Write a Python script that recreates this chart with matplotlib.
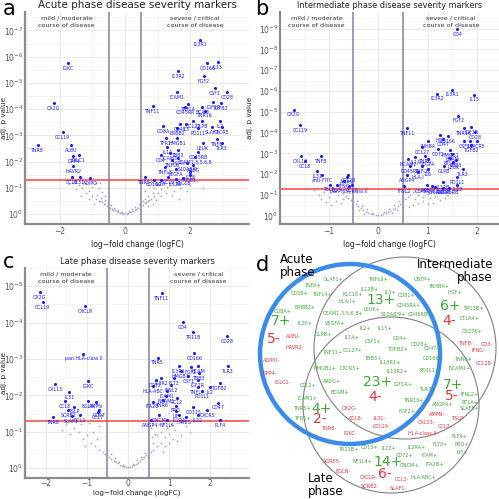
import numpy as np
import matplotlib.pyplot as plt
from matplotlib.patches import Circle
from matplotlib.ticker import LogFormatterMathtext, FixedLocator

## Volcano data: labelled markers as (logFC, log10 adj. p value)
a_names = ['IGKC', 'OX2G', 'CCL19', 'TNR8', 'ALBU', 'IGLC1', 'DPP4', 'HAVR2', 'IL31', 'CCL8', 'ADIPO',
           'I13R1', 'IL15', 'CD166', 'I13R2', 'FGF2', 'CSF1', 'ICAM1', 'CD28', 'TNF11', 'TNFL4', 'CD45RA',
           'BCAM', 'IGF1R', 'TGFB2', 'TNR16', 'CCL27', 'GLPB', 'IL2', 'CD47', 'IL3', 'CD8A', 'SLAF1',
           'CXCR5', 'ERBB2', 'PD1L1', 'TFR1', 'HMGB1', 'TNF6', 'LEUK', 'TLR3', 'IL1A', 'TBB3', 'CD45RB',
           'CD4', 'ICAM3', 'HLA-I', 'CEAM1,3,5,6,8', 'TNFL6', 'S10A8/9', 'AREG', 'TNFL8', 'VEGFA',
           'IL18', 'CD81', 'CCL2', 'TNR5', 'CD160', 'IL20', 'IL12B', 'K1C18']
a_fc = [-1.73, -2.18, -1.91, -2.67, -1.64, -1.42, -1.58, -1.58, -1.39, -1.61, -1.06,
        2.30, 2.85, 2.52, 1.64, 2.42, 2.76, 1.58, 3.12, 0.85, 1.94, 1.85,
        2.36, 2.70, 2.94, 2.45, 2.09, 2.36, 2.91, 1.70, 1.88, 1.18, 2.67,
        2.97, 1.61, 2.24, 1.27, 1.61, 2.82, 2.39, 2.97, 1.30, 1.64, 2.24,
        1.09, 1.39, 1.64, 2.15, 1.45, 1.91, 2.09, 1.24, 1.55,
        2.00, 2.00, 1.33, 0.61, 0.88, 1.09, 1.55, 1.79]
a_logp = [-5.74, -4.22, -3.12, -2.62, -2.62, -2.24, -2.20, -1.82, -1.41, -1.41, -1.37,
          -6.65, -5.78, -5.74, -5.44, -5.25, -4.79, -4.64, -4.64, -4.11, -4.18, -4.07,
          -4.07, -4.26, -4.22, -3.95, -3.54, -3.54, -3.54, -3.42, -3.42, -3.35, -3.31,
          -3.31, -3.27, -3.27, -2.89, -2.89, -2.85, -2.70, -2.70, -2.55, -2.43, -2.36,
          -2.24, -2.32, -2.13, -2.17, -2.05, -1.94, -1.86, -1.79, -1.71,
          -1.60, -1.48, -1.41, -1.41, -1.32, -1.32, -1.33, -1.37]
a_bg_fc = [-0.05, 0.05, 0.0, -0.1, 0.1, -0.15, 0.15, -0.2, 0.2, -0.25, 0.25, -0.3, 0.3, -0.35, 0.35,
           -0.4, 0.4, -0.45, 0.45, -0.5, 0.5, -0.55, 0.55, -0.6, 0.6, -0.65, 0.65, -0.7, 0.7, -0.75,
           0.75, -0.8, 0.8, -0.9, 0.9, -1.0, 1.0, -0.12, 0.12, -0.22, 0.22, -0.32, 0.32, -0.42, 0.42,
           -0.52, 0.55, -0.62, 0.62, -0.72, 0.72, -0.85, 0.85,
           -1.1, -1.2, -1.3, -1.4, -1.5, -1.6, -1.7, -1.2, -1.0, -0.9, -0.8, -0.7, -1.1, -1.35, -0.95,
           -0.6, -1.55, -0.75, -1.25,
           0.6, 0.7, 0.8, 0.9, 1.0, 1.1, 1.2, 1.3, 1.4, 1.5, 1.6, 1.7, 1.8, 2.0, 2.2, 1.1, 1.25, 0.95,
           1.45, 1.65, 0.7, 0.85, 2.4, 1.9]
a_bg_logp = [-0.02, -0.02, -0.04, -0.04, -0.05, -0.06, -0.07, -0.09, -0.1, -0.12, -0.13, -0.15, -0.16,
             -0.18, -0.2, -0.22, -0.24, -0.25, -0.28, -0.3, -0.32, -0.33, -0.36, -0.38, -0.42, -0.4,
             -0.45, -0.45, -0.5, -0.5, -0.55, -0.52, -0.6, -0.6, -0.7, -0.68, -0.8, -0.1, -0.12, -0.18,
             -0.2, -0.25, -0.28, -0.35, -0.38, -0.45, -0.5, -0.55, -0.6, -0.62, -0.7, -0.75, -0.8,
             -0.9, -0.8, -1.0, -1.1, -0.95, -1.2, -1.15, -1.2, -1.05, -1.2, -1.0, -0.85, -0.6, -0.7, -0.4,
             -0.7, -1.25, -1.2, -1.27,
             -0.9, -1.1, -1.25, -1.0, -1.15, -0.95, -1.2, -1.05, -1.25, -0.9, -1.15, -1.0, -1.2, -1.1,
             -1.25, -0.7, -0.8, -0.55, -0.75, -0.6, -0.3, -0.4, -1.0, -0.9]

b_names = ['CD4', 'I13R2', 'I13R1', 'IL15', 'OX2G', 'FGF2', 'TNF11', 'TNR16', 'IGF1R', 'CD28', 'HGF',
           'CD166', 'CD47', 'INHBA', 'CSF1', 'IL2', 'CXCR5', 'TGFB2', 'CCL27', 'CD72', 'HMGB1', 'BCAM',
           'TNR6', 'VEGFA', 'BTLA', 'LEUK', 'TBB3', 'NCAM1', 'IL1A', 'CD45RA', 'TNFL6', 'IL6', 'GLPB',
           'TLR3', 'ANGP4', 'HLA-I', 'PD1L1', 'IL12B', 'IL18', 'K1C18', 'CD45RB', 'CEAM1,3,5,6,8',
           'AREG', 'CTLA4', 'IFNL2', 'CCL19', 'CXL13', 'TNFB', 'CCL8', 'IL31', 'anti-FITC', 'TSLP',
           'CO3', 'IFNG', 'CCL28', 'AMPN', 'pan HLA-class II', 'CCL7']
b_fc = [1.60, 1.19, 1.49, 1.94, -1.70, 1.62, 0.59, 1.74, 1.88, 1.96, 1.25,
        1.41, 1.31, 1.01, 1.74, 1.86, 2.00, 1.88, 0.89, 1.21, 1.45, 1.49,
        0.95, 1.01, 1.45, 1.52, 1.58, 0.61, 0.75, 0.65, 0.89, 1.01, 1.33,
        1.72, 0.59, 0.81, 1.60, 1.31, 1.60, 1.31, 1.43, 1.09,
        0.99, 1.15, 0.53, -1.58, -1.56, -1.15, -1.47, -1.23, -1.13, -0.97,
        -0.83, -0.69, -0.61, -0.63, -0.59, -0.53]
b_logp = [-8.98, -5.87, -6.07, -5.83, -5.10, -4.81, -4.22, -4.22, -4.27, -4.03, -3.88,
          -3.83, -3.69, -3.59, -3.59, -3.59, -3.59, -3.40, -3.30, -3.20, -3.16, -2.96,
          -2.86, -2.72, -2.77, -2.57, -2.67, -2.72, -2.82, -2.38, -2.38, -2.23, -2.38,
          -2.23, -1.94, -2.09, -1.84, -1.60, -1.50, -1.35, -1.35, -1.41,
          -1.46, -1.36, -1.41, -4.37, -2.86, -2.86, -2.62, -2.14, -1.94, -1.50,
          -1.46, -1.65, -1.94, -1.84, -1.41, -1.46]
b_bg_fc = [0.0, -0.05, 0.05, -0.1, 0.1, -0.15, 0.15, -0.2, 0.2, -0.25, 0.25, -0.3, 0.3, -0.35, 0.35,
           -0.4, 0.4, -0.45, 0.45, -0.5, 0.5, -0.55, 0.55, -0.6, 0.6, -0.65, 0.65, -0.7, 0.7, 0.75,
           -0.12, 0.12, -0.22, 0.22, -0.32, 0.32, -0.42, 0.42, -0.5, 0.5, -0.58, 0.58, -0.38, 0.38,
           -0.28, 0.28,
           -0.8, -0.9, -1.0, -1.1, -1.2, -0.85, -0.75, -1.05, -0.95, -0.7, -1.3, -0.65, -1.15,
           0.8, 0.85, 0.9, 0.95, 1.0, 1.05, 1.1, 1.15, 1.2, 1.25, 1.3, 1.4, 1.5, 0.8, 0.9, 1.0, 1.1,
           0.7, 0.75, 1.35, 1.6, 0.62]
b_bg_logp = [-0.02, -0.03, -0.04, -0.06, -0.08, -0.1, -0.12, -0.15, -0.17, -0.2, -0.23, -0.27, -0.3,
             -0.35, -0.38, -0.45, -0.47, -0.55, -0.57, -0.65, -0.68, -0.75, -0.8, -0.85, -0.9, -0.95,
             -1.0, -1.1, -1.12, -1.2, -0.15, -0.18, -0.3, -0.32, -0.45, -0.5, -0.7, -0.72, -0.9,
             -0.95, -1.1, -1.15, -0.25, -0.28, -0.1, -0.12,
             -1.0, -1.2, -0.9, -1.15, -1.0, -0.7, -0.6, -0.65, -0.5, -0.8, -1.25, -1.25, -0.8,
             -1.0, -1.25, -0.9, -1.15, -1.05, -0.85, -1.2, -0.95, -1.1, -0.75, -1.2, -1.0, -1.15,
             -0.6, -0.7, -0.55, -0.6, -0.5, -0.8, -0.85, -1.25, -0.4]

c_names = ['OX2G', 'CCL19', 'CXCL9', 'TNF11', 'CD4', 'TR11B', 'CD28', 'pan HLA-class II', 'TNR5',
           'CD166', 'I13R1', 'FGF2', 'BCAM', 'TLR3', 'HMGB1', 'TBB3', 'I13R2', 'FLT3', 'CSF1', 'IGF1R',
           'TGFB2', 'CD72', 'IFNL2', 'TNFL4', 'IL2', 'HLA-ABC', 'ICAM1', 'PD1L1', 'NCAM1', 'CCL2',
           'ITA2B', 'TNR6', 'PRO', 'CD47', 'CD115', 'CXCR5', 'LIF', 'ONCM', 'IL22', 'ANGP4', 'PLF4',
           'AREG', 'IL2RA', 'NF1L4',
           'CXL13', 'IGKC', 'IL31', 'CCL8', 'EGLN', 'AMPN', 'TSLP', 'CD97', 'CCL7', 'SCRB2', 'TNR8',
           'SLAF1', 'CCL3']
c_fc = [-2.14, -2.07, -1.04, 0.82, 1.33, 1.59, 2.41, -1.08, 0.72,
        1.61, 1.23, 1.52, 1.71, 2.43, 1.28, 1.73, 0.80, 1.11, 1.47, 1.69,
        2.24, 0.67, 1.04, 1.69, 2.00, 0.60, 0.96, 1.81, 0.92, 1.18,
        0.60, 0.84, 1.16, 2.19, 1.59, 1.93, 1.16, 0.75, 1.69, 0.55, 2.24,
        1.40, 1.25, 0.96,
        -1.76, -0.96, -1.42, -1.54, -0.96, -0.77, -1.30, -0.70, -0.72, -1.45, -1.81,
        -1.37, -1.16]
c_logp = [-4.84, -4.57, -4.46, -4.81, -4.01, -3.74, -3.63, -3.15, -3.04,
          -3.17, -2.80, -2.77, -2.80, -2.80, -2.66, -2.61, -2.47, -2.47, -2.53, -2.42,
          -2.34, -2.42, -2.28, -2.23, -2.23, -2.26, -2.12, -2.12, -1.99, -1.94,
          -1.83, -1.88, -1.72, -1.80, -1.67, -1.59, -1.56, -1.45, -1.45, -1.32, -1.32,
          -1.40, -1.45, -1.33,
          -2.31, -2.39, -2.10, -1.85, -1.85, -1.83, -1.69, -1.59, -1.55, -1.59, -1.40,
          -1.42, -1.45]
c_bg_fc = [0.0, -0.05, 0.05, -0.1, 0.1, -0.15, 0.15, -0.2, 0.2, -0.25, 0.25, -0.3, 0.3, -0.35, 0.35,
           -0.4, 0.4, -0.45, 0.45, -0.5, 0.5, -0.55, 0.55, -0.6, 0.6, -0.7, 0.7, -0.8, 0.8,
           -0.12, 0.12, -0.22, 0.22, -0.32, 0.32, -0.42, 0.42, -0.52, 0.52, 0.62, 0.58, 0.48, 0.65, 0.55,
           -0.9, -1.0, -1.1, -1.2, -1.3, -1.4, -1.5, -0.85, -0.75, -1.15, -0.95, -1.6, -0.7, -1.05,
           0.7, 0.75, 0.8, 0.85, 0.9, 0.95, 1.0, 1.05, 1.1, 1.15, 1.2, 1.3, 1.4, 0.9, 1.0, 1.2, 0.85,
           1.5]
c_bg_logp = [-0.02, -0.03, -0.03, -0.05, -0.06, -0.07, -0.08, -0.1, -0.12, -0.13, -0.15, -0.17, -0.19,
             -0.21, -0.24, -0.26, -0.3, -0.3, -0.35, -0.35, -0.4, -0.4, -0.45, -0.45, -0.5, -0.5,
             -0.6, -0.6, -0.7, -0.1, -0.12, -0.18, -0.22, -0.28, -0.32, -0.38, -0.42, -0.5, -0.55,
             -0.7, -0.85, -0.6, -0.95, -1.1,
             -0.7, -0.9, -0.8, -1.0, -1.1, -0.95, -1.2, -1.0, -0.8, -1.2, -1.25, -1.05, -1.15, -0.6,
             -0.9, -1.2, -1.0, -1.25, -0.85, -1.1, -0.95, -1.2, -0.8, -1.05, -1.25, -0.9, -1.15,
             -0.6, -0.7, -0.75, -0.45, -1.0]

## Venn diagram labels: (text, x, y, kind) in pixel coords of panel d
venn_labels = [
    ('SLAF1+', 333, 279, 'g'), ('TNFL6+', 378, 279, 'g'), ('OSTP+', 422, 279, 'g'),
    ('TNFA+', 312, 285, 'g'), ('IL12B+', 370, 289, 'g'), ('IL3+', 390, 292, 'g'),
    ('INHBA+', 440, 286, 'g'), ('HGF+', 455, 292, 'g'), ('CD38+', 300, 293, 'g'),
    ('TNFL4+', 322, 294, 'g'), ('K1C18+', 353, 294, 'g'), ('HLA-I+', 347, 301, 'g'),
    ('13+', 381, 300, 'G'), ('CD81+', 407, 295, 'g'), ('CD45RA+', 409, 305, 'g'),
    ('6+', 450, 306, 'G'), ('TR13B+', 473, 308, 'g'), ('CD8A+', 283, 311, 'g'),
    ('ERBB2+', 305, 307, 'g'), ('LEUK+', 372, 309, 'g'), ('S10A8/9+', 393, 314, 'g'),
    ('CD45RB+', 420, 314, 'g'), ('CTLA4+', 470, 318, 'g'), ('7+', 281, 321, 'G'),
    ('IL20+', 305, 323, 'g'), ('CEAM1,3,5,6,8+', 343, 313, 'g'), ('VEGFA+', 335, 323, 'g'),
    ('4-', 449, 321, 'R'), ('CD276+', 472, 331, 'g'), ('5-', 274, 339, 'R'),
    ('ALBU-', 293, 336, 'r'), ('GLPB+', 323, 334, 'g'), ('IL2+', 365, 328, 'g'),
    ('IL15+', 385, 328, 'g'), ('HAVR2-', 295, 347, 'r'), ('IL1A+', 352, 337, 'g'),
    ('CSF1+', 373, 341, 'g'), ('CD4+', 400, 338, 'g'), ('CD28+', 420, 344, 'g'),
    ('CD47+', 433, 348, 'g'), ('TNFB-', 465, 343, 'r'), ('CO3-', 487, 344, 'r'),
    ('IFNG-', 478, 350, 'r'), ('TNF11+', 332, 352, 'g'), ('CCL27+', 353, 350, 'g'),
    ('TGFB2+', 397, 349, 'g'), ('TBB3+', 373, 358, 'g'), ('ADIPO-', 272, 360, 'r'),
    ('CD166+', 433, 358, 'g'), ('TNR6+', 463, 359, 'g'), ('CCL28-', 485, 363, 'r'),
    ('IL13R1+', 390, 362, 'g'), ('HMGB1+', 325, 368, 'g'), ('CXCR5+', 350, 368, 'g'),
    ('IL13R2+', 397, 371, 'g'), ('PD1L1+', 430, 370, 'g'), ('NCAM1+', 460, 368, 'g'),
    ('DPP4-', 270, 373, 'r'), ('IGLC1-', 283, 382, 'r'), ('CCL2+', 308, 385, 'g'),
    ('AREG+', 332, 381, 'g'), ('23+', 378, 382, 'G'), ('IGF1R+', 403, 384, 'g'),
    ('7+', 453, 385, 'G'), ('TLR3+', 427, 389, 'g'), ('BCAM+', 340, 392, 'g'),
    ('ICAM1+', 308, 398, 'g'), ('4-', 375, 397, 'R'), ('5-', 452, 396, 'R'),
    ('TNR16+', 413, 400, 'g'), ('IFNL2+', 470, 394, 'g'), ('BTLA+', 470, 402, 'g'),
    ('TNR5+', 302, 408, 'g'), ('4+', 321, 409, 'G'), ('OX2G-', 350, 408, 'r'),
    ('ANGP4+', 443, 404, 'g'), ('SLAF8+', 470, 408, 'g'), ('TFR1+', 302, 418, 'g'),
    ('2-', 320, 419, 'R'), ('CCL8-', 356, 418, 'r'), ('IL31-', 380, 418, 'r'),
    ('FGF2+', 407, 411, 'g'), ('AMPN-', 437, 414, 'r'), ('TSLP-', 458, 418, 'r'),
    ('CXL13-', 427, 422, 'r'), ('CCL19-', 382, 426, 'r'), ('CCL7-', 445, 426, 'r'),
    ('TNR8-', 329, 428, 'r'), ('IGKC-', 350, 433, 'r'), ('HLA-class II-', 423, 433, 'r'),
    ('PLF4+', 460, 436, 'g'), ('TR11B+', 348, 449, 'g'), ('CD15+', 370, 447, 'g'),
    ('IL22+', 389, 448, 'g'), ('IL2RA+', 417, 447, 'g'), ('FLT3+', 440, 444, 'g'),
    ('PRO+', 462, 444, 'g'), ('LIF+', 462, 452, 'g'), ('CD72+', 405, 455, 'g'),
    ('ITAM+', 430, 455, 'g'), ('AGRE5-', 332, 461, 'r'), ('NF1L4+', 362, 461, 'g'),
    ('14+', 388, 462, 'G'), ('ONCM+', 410, 465, 'g'), ('ITA2B+', 435, 464, 'g'),
    ('EGLN-', 343, 471, 'r'), ('CXCL9-', 368, 477, 'r'), ('6-', 385, 474, 'R'),
    ('CCL3-', 402, 479, 'r'), ('HLA-ABC+', 423, 477, 'g'), ('SCRB2-', 370, 486, 'r'),
    ('SLAF1-', 398, 488, 'r'),
]

W = 499.0
BLUE = '#1a1aff'
GREY_PT = '#a3a3c8'
VLINE = '#9393b5'
AXIS_C = '#8c8c8c'
GREEN = '#3aa935'
RED = '#e8323a'


def px_axes(fig, left, top, right, bottom):
    return fig.add_axes([left / W, 1 - bottom / W, (right - left) / W, (bottom - top) / W])


def volcano(ax, names, fc, logp, bg_fc, bg_logp, xlim, ylim_exp, xticks, xminor, title, title_size,
            xpad=2, xlabelpad=3, xlabel_size=5.5):
    ax.set_yscale('log')
    ax.set_xlim(*xlim)
    ax.set_ylim(10 ** ylim_exp[0], 10 ** ylim_exp[1])
    lo = int(np.ceil(ylim_exp[1]))
    ax.yaxis.set_major_locator(FixedLocator([10.0 ** k for k in range(lo, 1)]))
    ax.yaxis.set_minor_locator(FixedLocator([10.0 ** (k + 0.5) for k in range(lo - 1, 1)]))
    ax.yaxis.set_major_formatter(LogFormatterMathtext())
    ax.set_xticks(xticks)
    ax.set_xticks(xminor, minor=True)
    ax.grid(True, which='major', color='#e6e6e6', lw=0.6)
    ax.grid(True, which='minor', color='#f0f0f0', lw=0.4)
    ax.set_axisbelow(True)
    for s in ['top', 'right']:
        ax.spines[s].set_visible(False)
    for s in ['left', 'bottom']:
        ax.spines[s].set_color(AXIS_C)
        ax.spines[s].set_linewidth(1.6)
    ax.tick_params(which='both', length=0, labelsize=5.5, labelcolor='#555555', pad=2)
    ax.tick_params(axis='x', pad=xpad)
    ax.tick_params(axis='y', pad=1.2)

    ax.axvline(-0.5, color=VLINE, lw=1.3, zorder=1)
    ax.axvline(0.5, color=VLINE, lw=1.3, zorder=1)
    ax.axhline(0.05, color='#ff4040', lw=1.1, zorder=1)

    ax.scatter(bg_fc, 10.0 ** np.array(bg_logp), s=1.6, color=GREY_PT, lw=0, zorder=2)
    ax.scatter(fc, 10.0 ** np.array(logp), s=5, color=BLUE, lw=0, zorder=3)
    for n, x, y in zip(names, fc, logp):
        ax.annotate(n, (x, 10.0 ** y), xytext=(0, -2), textcoords='offset points',
                    ha='center', va='top', fontsize=3.4, color=BLUE, zorder=4)

    span = xlim[1] - xlim[0]
    ax.text(((xlim[0] - 0.5) / 2 - xlim[0]) / span, 0.985, 'mild / moderate\ncourse of disease',
            transform=ax.transAxes, ha='center', va='top', fontsize=4.6, color='#333333',
            linespacing=1.6)
    ax.text(((xlim[1] + 0.5) / 2 - xlim[0]) / span, 0.985, 'severe / critical\ncourse of disease',
            transform=ax.transAxes, ha='center', va='top', fontsize=4.6, color='#333333',
            linespacing=1.6)

    ax.set_title(title, fontsize=title_size, pad=3, color='#222222')
    ax.set_xlabel('log\u2212fold change (logFC)', fontsize=xlabel_size, labelpad=xlabelpad,
                  color='#222222')
    ax.set_ylabel('adj. p value', fontsize=5.2, color='#222222')


fig = plt.figure(figsize=(4.99, 4.99), dpi=100)

ax_a = px_axes(fig, 25, 12, 249, 224)
volcano(ax_a, a_names, a_fc, a_logp, a_bg_fc, a_bg_logp, (-3.06, 3.8), (0.37, -7.7),
        [-2, 0, 2], [-3, -1, 1, 3], 'Acute phase disease severity markers', 7.5)
ax_a.yaxis.set_label_coords(-0.082, 0.5)

ax_b = px_axes(fig, 280, 12, 499, 224)
volcano(ax_b, b_names, b_fc, b_logp, b_bg_fc, b_bg_logp, (-1.98, 2.44), (0.4, -9.8),
        [-1, 0, 1, 2], [-1.5, -0.5, 0.5, 1.5], 'Intermediate phase disease severity markers', 5.9)

ax_c = px_axes(fig, 25, 268, 249, 478)
volcano(ax_c, c_names, c_fc, c_logp, c_bg_fc, c_bg_logp, (-2.5, 2.94), (0.27, -5.5),
        [-2, -1, 0, 1, 2], [-1.5, -0.5, 0.5, 1.5, 2.5], 'Late phase disease severity markers', 6.0,
        xpad=0.8, xlabelpad=0.8, xlabel_size=5.2)
ax_c.yaxis.set_label_coords(-0.082, 0.5)

# Venn diagram panel
ax_d = px_axes(fig, 250, 250, 499, 499)
ax_d.set_xlim(250, 499)
ax_d.set_ylim(499, 250)
ax_d.axis('off')
ax_d.add_patch(Circle((405, 348), 91, fill=False, ec='#808080', lw=0.8))
ax_d.add_patch(Circle((391, 405), 88, fill=False, ec='#808080', lw=0.8))
ax_d.add_patch(Circle((350, 354), 90, fill=False, ec='#3b8be8', lw=3.2))
for t, x, y, k in venn_labels:
    if k in 'gr':
        ax_d.text(x, y, t, ha='center', va='center', fontsize=3.6,
                  color=GREEN if k == 'g' else RED)
    else:
        ax_d.text(x, y, t, ha='center', va='center', fontsize=10,
                  color=GREEN if k == 'G' else RED)
ax_d.text(280, 266, 'Acute\nphase', ha='left', va='center', fontsize=8.5, linespacing=0.95)
ax_d.text(493, 271, 'Intermediate\nphase', ha='right', va='center', fontsize=8.5,
          multialignment='right', linespacing=0.95)
ax_d.text(308, 485, 'Late\nphase', ha='left', va='center', fontsize=8.5, linespacing=0.95)

# panel letters
fig.text(3 / W, 1 - 9 / W, 'a', fontsize=15, va='center', ha='left')
fig.text(255 / W, 1 - 9 / W, 'b', fontsize=15, va='center', ha='left')
fig.text(3 / W, 1 - 262 / W, 'c', fontsize=15, va='center', ha='left')
fig.text(256 / W, 1 - 265 / W, 'd', fontsize=15, va='center', ha='left')

fig.savefig('out.png', dpi=100)
